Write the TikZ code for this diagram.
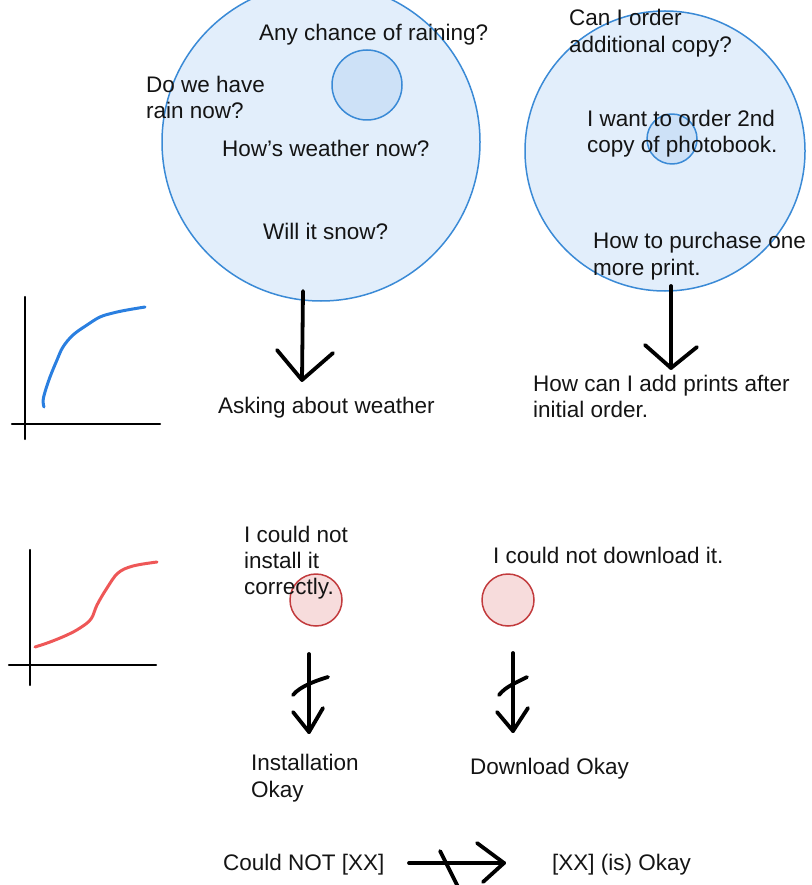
\documentclass[tikz,border=0pt]{standalone}
\usepackage{fontspec}
\setmainfont{Liberation Sans}
\definecolor{ink}{HTML}{141414}
\definecolor{cblue}{HTML}{3A8AD6}
\definecolor{cfill}{HTML}{E2EEFB}
\definecolor{sfill}{HTML}{CDE1F7}
\definecolor{rstroke}{HTML}{C23B3D}
\definecolor{rfill}{HTML}{F7DCDC}
\definecolor{bcurve}{HTML}{2A7FE0}
\definecolor{rcurve}{HTML}{EE5757}
\begin{document}
\begin{tikzpicture}[x=1pt,y=-1pt,line cap=round,line join=round,
  txt/.style={anchor=base west,inner sep=0pt,font=\fontsize{22.5}{27}\selectfont,text=ink},
  bigc/.style={circle,draw=cblue,fill=cfill,line width=1.5pt,inner sep=0pt},
  smallc/.style={circle,draw=cblue,fill=sfill,line width=1.5pt,inner sep=0pt},
  redc/.style={circle,draw=rstroke,fill=rfill,line width=1.5pt,inner sep=0pt,minimum size=52pt},
  arw/.style={draw=black,line width=3.8pt},
  axis/.style={draw=black,line width=2.2pt},
  curve/.style={line width=3pt}]
\useasboundingbox (0,0) rectangle (811,885);

% circles
\node[bigc,minimum size=318pt] (c1) at (321,142) {};
\node[smallc,minimum size=70pt] (c1s) at (367,85) {};
\node[bigc,minimum size=280pt] (c2) at (665,151) {};
\node[smallc,minimum size=50pt] (c2s) at (672,139) {};
\node[redc] (r1) at (316,600) {};
\node[redc] (r2) at (508,600) {};

% texts, cluster 1
\node[txt] (t1) at (259,41) {Any chance of raining?};
\node[txt] (t2a) at (146,93) {Do we have};
\node[txt] (t2b) at (146,119) {rain now?};
\node[txt] (t3) at (222,157) {How’s weather now?};
\node[txt] (t4) at (263,240) {Will it snow?};
\node[txt] (t5) at (218,413) {Asking about weather};

% texts, cluster 2
\node[txt] (u1a) at (569,26) {Can I order};
\node[txt] (u1b) at (569,53) {additional copy?};
\node[txt] (u2a) at (587,127) {I want to order 2nd};
\node[txt] (u2b) at (587,153) {copy of photobook.};
\node[txt] (u3a) at (593,248) {How to purchase one};
\node[txt] (u3b) at (593,275) {more print.};
\node[txt] (u4a) at (533,391) {How can I add prints after};
\node[txt] (u4b) at (533,417) {initial order.};

% texts, lower part
\node[txt] (v1a) at (244,542) {I could not};
\node[txt] (v1b) at (244,568) {install it};
\node[txt] (v1c) at (244,594) {correctly.};
\node[txt] (v2) at (493,563) {I could not download it.};
\node[txt] (v3a) at (251,770) {Installation};
\node[txt] (v3b) at (251,797) {Okay};
\node[txt] (v4) at (470,774) {Download Okay};
\node[txt] (w1) at (223,870) {Could NOT [XX]};
\node[txt] (w2) at (552,870) {[XX] (is) Okay};

% arrow 1
\coordinate (a1s) at (303,291);
\coordinate (a1t) at (302,380);
\coordinate (a1l) at (277,350);
\coordinate (a1r) at (333,353);
\draw[arw] (a1s) -- (a1t);
\draw[arw] (a1l) -- (a1t) -- (a1r);

% arrow 2
\coordinate (a2s) at (671,286);
\coordinate (a2t) at (671,368);
\coordinate (a2l) at (645,345);
\coordinate (a2r) at (697,347);
\draw[arw] (a2s) -- (a2t);
\draw[arw] (a2l) -- (a2t) -- (a2r);

% struck arrow 3
\coordinate (a3s) at (309,654);
\coordinate (a3t) at (309,732);
\coordinate (a3l) at (293,712);
\coordinate (a3r) at (323,708);
\coordinate (s3a) at (293,695);
\coordinate (s3b) at (328,677);
\draw[arw] (a3s) -- (a3t);
\draw[arw] (a3l) -- (a3t) -- (a3r);
\draw[arw] (s3a) .. controls (300,686) and (318,680) .. (s3b);

% struck arrow 4
\coordinate (a4s) at (513,653);
\coordinate (a4t) at (513,731);
\coordinate (a4l) at (497,712);
\coordinate (a4r) at (528,708);
\coordinate (s4a) at (499,695);
\coordinate (s4b) at (527,677);
\draw[arw] (a4s) -- (a4t);
\draw[arw] (a4l) -- (a4t) -- (a4r);
\draw[arw] (s4a) .. controls (506,686) and (518,682) .. (s4b);

% struck horizontal arrow
\coordinate (h1s) at (409,863);
\coordinate (h1t) at (504,863);
\coordinate (h1u) at (477,843);
\coordinate (h1d) at (483,882);
\coordinate (hs1) at (440,851);
\coordinate (hs2) at (458,887);
\draw[arw] (h1s) -- (h1t);
\draw[arw] (h1u) -- (h1t) -- (h1d);
\draw[arw] (hs1) -- (hs2);

% graph 1
\coordinate (g1top) at (25,297);
\coordinate (g1bot) at (25,439);
\coordinate (g1l) at (12,424);
\coordinate (g1r) at (160,424);
\draw[axis] (g1top) -- (g1bot);
\draw[axis] (g1l) -- (g1r);
\draw[curve,draw=bcurve] plot[smooth,tension=0.6] coordinates {(44,407) (43,401) (45,392) (50,377) (57,360) (63,347) (73,335) (87,325) (100,317) (113,313) (127,310) (145,307)};

% graph 2
\coordinate (g2top) at (30,550);
\coordinate (g2bot) at (30,685);
\coordinate (g2l) at (9,665);
\coordinate (g2r) at (156,665);
\draw[axis] (g2top) -- (g2bot);
\draw[axis] (g2l) -- (g2r);
\draw[curve,draw=rcurve] plot[smooth,tension=0.6] coordinates {(35,647) (50,642) (67,635) (80,628) (91,619) (97,605) (107,588) (118,573) (133,566) (157,562)};
\end{tikzpicture}
\end{document}
